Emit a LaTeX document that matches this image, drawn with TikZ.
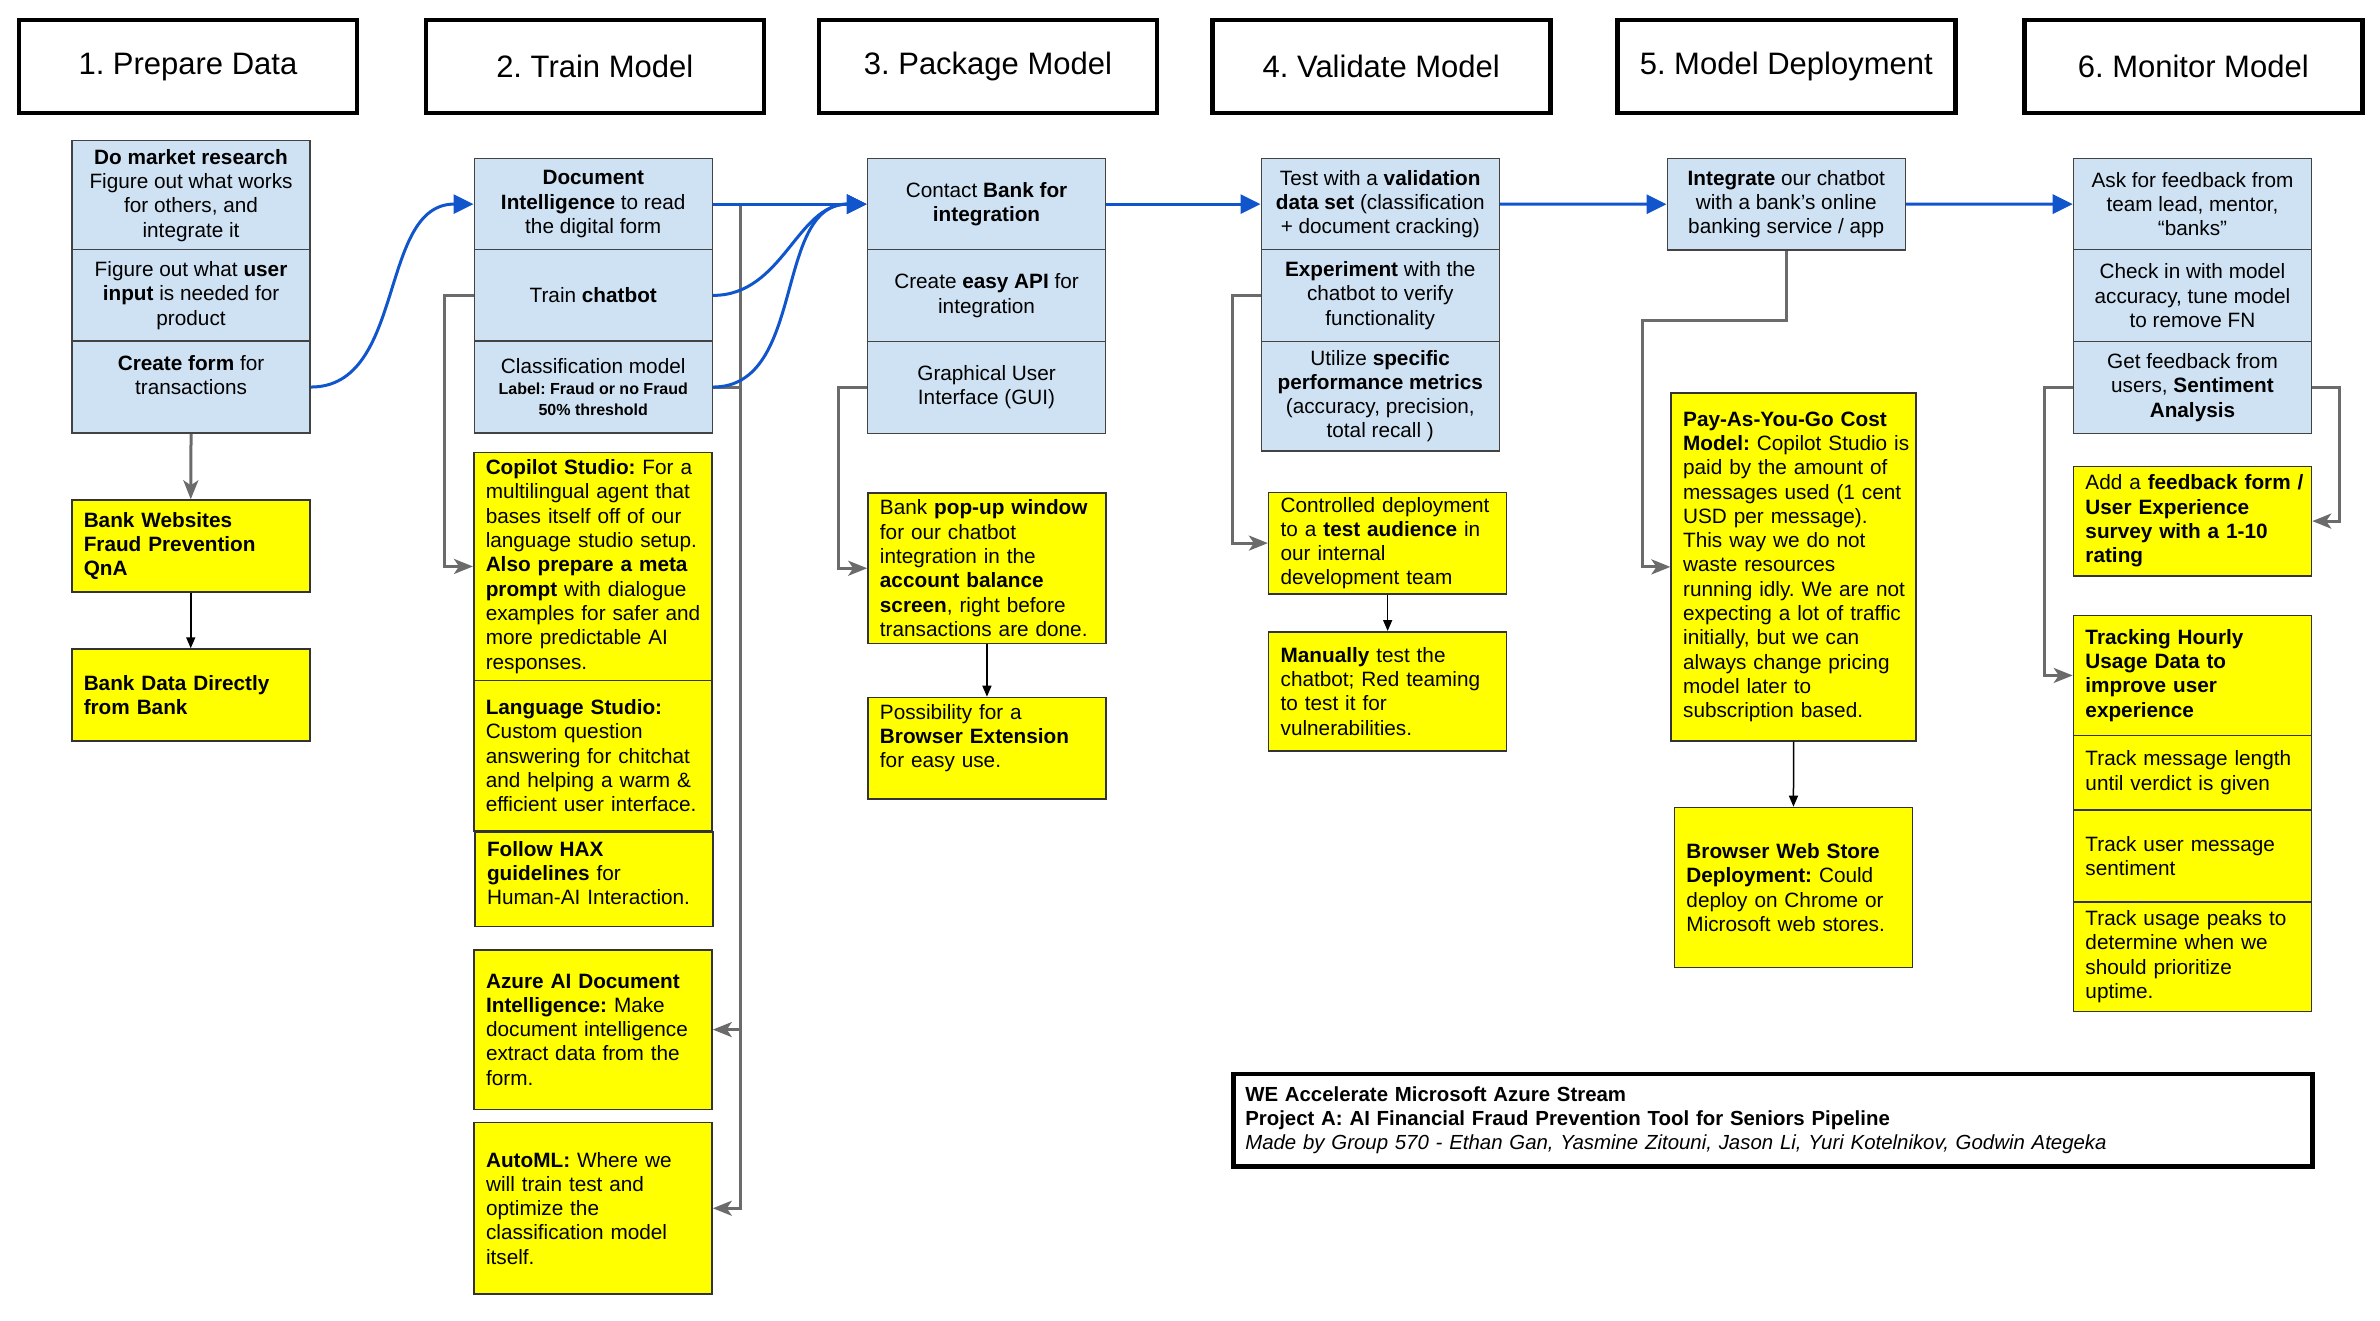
\documentclass[tikz,border=0pt]{standalone}
\usepackage{fontspec}
\setmainfont{Liberation Sans}
\usetikzlibrary{arrows.meta}
\definecolor{cellblue}{HTML}{CFE2F3}
\definecolor{cellline}{HTML}{434343}
\definecolor{noteyellow}{HTML}{FFFF00}
\definecolor{noteline}{HTML}{333333}
\definecolor{conngray}{HTML}{6B6B6B}
\definecolor{connblue}{HTML}{1155CC}
\newcommand\txtbody{\fontsize{20.75}{24.3}\selectfont\frenchspacing}
\newcommand\txtfoot{\fontsize{20.4}{24.3}\selectfont\frenchspacing}
\newcommand\txthead{\fontsize{31}{37}\selectfont\frenchspacing}
\newcommand\txtsmall{\fontsize{16}{19}\selectfont\bfseries}
\frenchspacing
\begin{document}
\begin{tikzpicture}[x=1pt,y=-1pt,
  hdr/.style={draw=black, line width=4.5pt, minimum width=338pt, minimum height=93pt, inner sep=0pt, anchor=north west, font=\txthead},
  cell/.style={draw=cellline, fill=cellblue, line width=1.5pt, minimum width=238pt, inner sep=0pt, anchor=north west, align=center, font=\txtbody},
  note/.style={draw=noteline, fill=noteyellow, line width=1.5pt, text width=214pt, inner xsep=12pt, inner ysep=2pt, anchor=north west, font=\txtbody,
     execute at begin node={\rightskip=0pt plus 1fil minus 80pt\relax}},
  footbox/.style={draw=black, line width=4.5pt, text width=1055pt, inner xsep=12pt, inner ysep=2pt, minimum height=92.6pt, anchor=north west, font=\txtfoot,
     execute at begin node={\rightskip=0pt plus 1fil minus 80pt\relax}},
  grayarrow/.style={draw=conngray, line width=3pt, -{Stealth[length=19pt,width=15pt,inset=5pt]}},
  bluearrow/.style={draw=connblue, line width=3pt, -{Triangle[length=20pt,width=19pt]}},
  thinarrow/.style={draw=black, line width=1.5pt, -{Triangle[length=11pt,width=9pt]}}
]
\useasboundingbox (0,0) rectangle (2380,1321);

% headers
\node[hdr] (h1) at (16.7,18) {1. Prepare Data};
\node[hdr] (h2) at (423.5,18) {2. Train Model};
\node[hdr] (h3) at (816.7,18) {3. Package Model};
\node[hdr] (h4) at (1210,18) {4. Validate Model};
\node[hdr] (h5) at (1615,18) {5. Model Deployment};
\node[hdr] (h6) at (2022,18) {6. Monitor Model};

% column 1
\node[cell, minimum height=109pt] (c1a) at (71.3,140) {\textbf{Do market research}\\Figure out what works\\for others, and\\integrate it};
\node[cell, minimum height=91.3pt] (c1b) at (71.3,249) {Figure out what \textbf{user}\\\textbf{input} is needed for\\product};
\node[cell, minimum height=92pt] (c1c) at (71.3,340.3) {\textbf{Create form} for\\transactions\\\mbox{}};
\node[note, minimum height=92pt] (n1a) at (71,499.3) {\textbf{Bank Websites}\\\textbf{Fraud Prevention}\\\textbf{QnA}};
\node[note, minimum height=91.7pt] (n1b) at (71,648.3) {\textbf{Bank Data Directly}\\\textbf{from Bank}};

% column 2
\node[cell, minimum height=91.3pt] (c2a) at (473.5,157.7) {\textbf{Document}\\\textbf{Intelligence} to read\\the digital form};
\node[cell, minimum height=91.3pt] (c2b) at (473.5,249) {Train \textbf{chatbot}};
\node[cell, minimum height=92pt] (c2c) at (473.5,340.3) {Classification model\\[-3pt]{\txtsmall Label: Fraud or no Fraud}\\[-3pt]{\txtsmall 50\% threshold}};
\node[note, minimum height=228pt] (n2a) at (473,451.7) {\textbf{Copilot Studio:} For a\\multilingual agent that\\bases itself off of our\\language studio setup.\\\textbf{Also prepare a meta}\\\textbf{prompt} with dialogue\\examples for safer and\\more predictable AI\\responses.};
\node[note, minimum height=150.6pt] (n2b) at (473,679.7) {\textbf{Language Studio:}\\Custom question\\answering for chitchat\\and helping a warm \&\\efficient user interface.};
\node[note, minimum height=94.7pt] (n2c) at (474.3,831) {\textbf{Follow HAX}\\\textbf{guidelines} for\\Human-AI Interaction.\\[-12pt]\mbox{}};
\node[note, minimum height=159.7pt] (n2d) at (473.3,949) {\textbf{Azure AI Document}\\\textbf{Intelligence:} Make\\document intelligence\\extract data from the\\form.};
\node[note, minimum height=171.6pt] (n2e) at (473.3,1121.7) {\textbf{AutoML:} Where we\\will train test and\\optimize the\\classification model\\itself.};

% column 3
\node[cell, minimum height=91.3pt] (c3a) at (866.8,157.7) {Contact \textbf{Bank for}\\\textbf{integration}};
\node[cell, minimum height=91.7pt] (c3b) at (866.8,249) {Create \textbf{easy API} for\\integration};
\node[cell, minimum height=92pt] (c3c) at (866.8,340.7) {Graphical User\\Interface (GUI)};
\node[note, minimum height=150.4pt] (n3a) at (867.2,492.3) {Bank \textbf{pop-up window}\\for our chatbot\\integration in the\\\textbf{account balance}\\\textbf{screen}, right before\\transactions are done.};
\node[note, minimum height=101.3pt] (n3b) at (867.2,696.7) {Possibility for a\\\textbf{Browser Extension}\\for easy use.\\\mbox{}};

% column 4
\node[cell, minimum height=91.3pt] (c4a) at (1260.5,157.7) {Test with a \textbf{validation}\\\textbf{data set} (classification\\+ document cracking)};
\node[cell, minimum height=91.7pt] (c4b) at (1260.5,249) {\textbf{Experiment} with the\\chatbot to verify\\functionality};
\node[cell, minimum height=109.3pt] (c4c) at (1260.5,340.7) {Utilize \textbf{specific}\\\textbf{performance metrics}\\(accuracy, precision,\\total recall )};
\node[note, minimum height=101.3pt] (n4a) at (1267.9,491.7) {Controlled deployment\\to a \textbf{test audience} in\\our internal\\development team};
\node[note, minimum height=119pt] (n4b) at (1267.9,631) {\textbf{Manually} test the\\chatbot; Red teaming\\to test it for\\vulnerabilities.};

% column 5
\node[cell, minimum height=91.6pt] (c5a) at (1666.5,157.7) {\textbf{Integrate} our chatbot\\with a bank’s online\\banking service / app};
\node[note, text width=220.8pt, minimum height=347.7pt] (n5a) at (1670.4,392.3) {\textbf{Pay-As-You-Go Cost}\\\textbf{Model:} Copilot Studio is\\paid by the amount of\\messages used (1 cent\\USD per message).\\This way we do not\\waste resources\\running idly. We are not\\expecting a lot of traffic\\initially, but we can\\always change pricing\\model later to\\subscription based.};
\node[note, minimum height=160pt] (n5b) at (1673.7,806.7) {\textbf{Browser Web Store}\\\textbf{Deployment:} Could\\deploy on Chrome or\\Microsoft web stores.};

% column 6
\node[cell, minimum height=91.3pt] (c6a) at (2072.7,157.7) {Ask for feedback from\\team lead, mentor,\\“banks”};
\node[cell, minimum height=91.7pt] (c6b) at (2072.7,249) {Check in with model\\accuracy, tune model\\to remove FN};
\node[cell, minimum height=92pt] (c6c) at (2072.7,340.7) {Get feedback from\\users, \textbf{Sentiment}\\\textbf{Analysis}};
\node[note, minimum height=109.3pt] (n6a) at (2072.7,465.7) {Add a \textbf{feedback form /}\\\textbf{User Experience}\\\textbf{survey with a 1-10}\\\textbf{rating}};
\node[note, minimum height=120pt] (n6b) at (2072.7,614.7) {\textbf{Tracking Hourly}\\\textbf{Usage Data to}\\\textbf{improve user}\\\textbf{experience}};
\node[note, minimum height=74.6pt] (n6c) at (2072.7,734.7) {Track message length\\until verdict is given};
\node[note, minimum height=92pt] (n6d) at (2072.7,809.3) {Track user message\\sentiment};
\node[note, minimum height=109.4pt] (n6e) at (2072.7,901.3) {Track usage peaks to\\determine when we\\should prioritize\\uptime.};

% footer
\node[footbox] (foot) at (1231,1071.7) {\textbf{WE Accelerate Microsoft Azure Stream}\\\textbf{Project A: AI Financial Fraud Prevention Tool for Seniors Pipeline}\\\textit{Made by Group 570 - Ethan Gan, Yasmine Zitouni, Jason Li, Yuri Kotelnikov, Godwin Ategeka}};

% gray connectors
\draw[grayarrow] (c1c.south) -- (n1a.north);
\draw[grayarrow] (c2b.west) -- ++(-29,0) |- (n2a.west);
\draw[grayarrow] (c2a.east) -- ++(27.5,0) |- (n2d.east);
\draw[grayarrow] (c2c.east) -- ++(27.5,0) |- (n2e.east);
\draw[grayarrow] (c3c.west) -- ++(-28,0) |- (n3a.west);
\draw[grayarrow] (c4b.west) -- ++(-28,0) |- (n4a.west);
\coordinate (k5) at (1642.8,321);
\draw[grayarrow] (c5a.south) |- (k5) |- (n5a.west);
\draw[grayarrow] (c6c.west) -- ++(-28,0) |- (n6b.west);
\draw[grayarrow] (c6c.east) -- ++(27,0) |- (n6a.east);

% thin black connectors
\draw[thinarrow] (n1a.south) -- (n1b.north);
\draw[thinarrow] (n3a.south) -- (n3b.north);
\draw[thinarrow] (n4a.south) -- (n4b.north);
\draw[thinarrow] (n5a.south) -- (n5b.north);

% blue connectors
\draw[bluearrow] (c1c.east) to[out=0,in=180] (c2a.west);
\draw[bluearrow] (c2a.east) -- (c3a.west);
\draw[bluearrow] (c2b.east) to[out=0,in=180] (c3a.west);
\draw[bluearrow] (c2c.east) to[out=0,in=180] (c3a.west);
\draw[bluearrow] (c3a.east) -- (c4a.west);
\draw[bluearrow] (c4a.east) -- (c5a.west);
\draw[bluearrow] (c5a.east) -- (c6a.west);
\end{tikzpicture}
\end{document}
